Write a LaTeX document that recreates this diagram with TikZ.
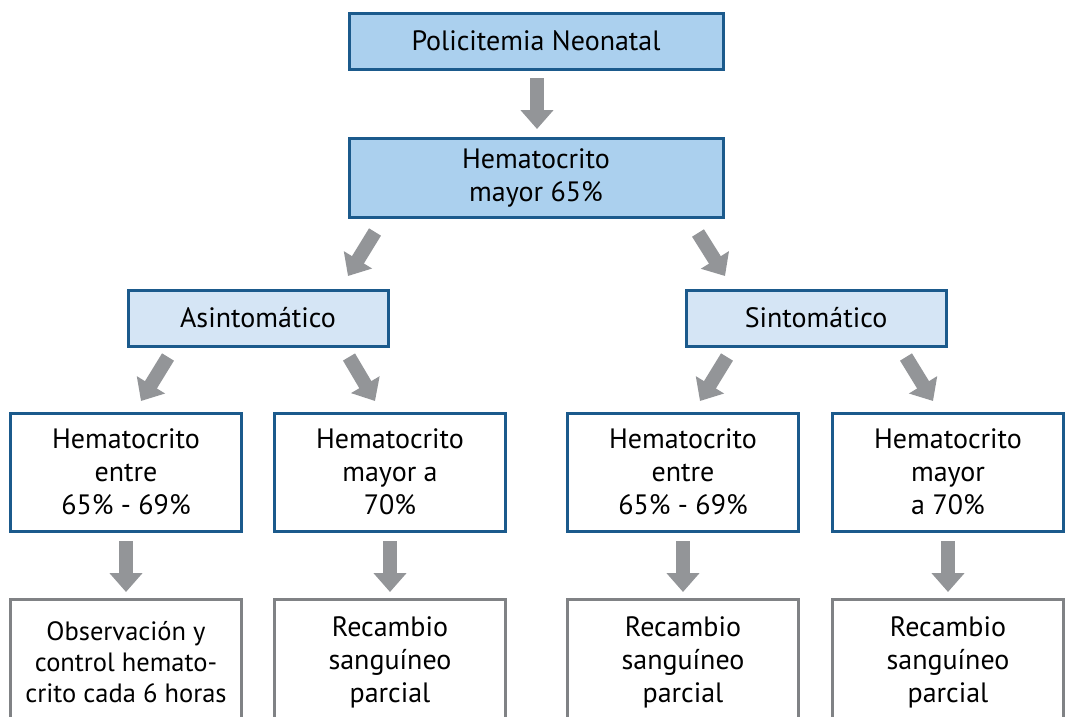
\documentclass[tikz,border=0pt]{standalone}
\usepackage{fontspec}
\setmainfont{PT Sans}
\usetikzlibrary{arrows.meta}
\definecolor{topfill}{HTML}{ABD0EE}
\definecolor{midfill}{HTML}{D5E5F5}
\definecolor{blueline}{HTML}{1B5A8C}
\definecolor{arrowgray}{HTML}{939598}
\definecolor{boxgray}{HTML}{808285}
\begin{document}
\begin{tikzpicture}[x=1pt,y=-1pt,
  every node/.style={inner sep=0pt, outer sep=0pt, align=center,
    font=\fontsize{28}{33}\selectfont},
  mainbox/.style={draw=blueline, line width=3pt, fill=topfill, minimum width=374pt},
  subbox/.style={draw=blueline, line width=3pt, fill=midfill, minimum width=260pt, minimum height=56pt},
  levelbox/.style={draw=blueline, line width=3pt, fill=white, minimum width=231pt, minimum height=118pt},
  endbox/.style={draw=boxgray, line width=3pt, fill=white, minimum width=231pt, minimum height=160pt},
  bigarrow/.style={draw=arrowgray, line width=14pt, line cap=butt,
    -{Triangle[width=32pt,length=19pt]}},
]
\useasboundingbox (0,0) rectangle (1066,716);
\clip (0,0) rectangle (1066,716);

\node[mainbox, minimum height=56pt] (top) at (536,41) {Policitemia Neonatal};
\node[mainbox, minimum height=79pt] (hem) at (536,177.5) {Hematocrito\\mayor 65\%};
\node[subbox] (asin) at (258,318) {Asintomático};
\node[subbox] (sint) at (816,318) {Sintomático};

\node[levelbox] (a1) at (126,472) {Hematocrito\\entre\\65\% - 69\%};
\node[levelbox] (a2) at (390,472) {Hematocrito\\mayor a\\70\%};
\node[levelbox] (s1) at (683,472) {Hematocrito\\entre\\65\% - 69\%};
\node[levelbox] (s2) at (948,472) {Hematocrito\\mayor\\a 70\%};

\node[endbox, anchor=north] (e1) at (126,599) {};
\node[endbox, anchor=north] (e2) at (390,599) {};
\node[endbox, anchor=north] (e3) at (683,599) {};
\node[endbox, anchor=north] (e4) at (948,599) {};
\node[font=\fontsize{26.5}{31}\selectfont] (t1) at (126,662) {Observación y\\control hemato-\\crito cada 6 horas};
\node (t2) at (390,662) {Recambio\\sanguíneo\\parcial};
\node (t3) at (683,662) {Recambio\\sanguíneo\\parcial};
\node (t4) at (948,662) {Recambio\\sanguíneo\\parcial};

% vertical arrows
\draw[bigarrow, shorten <=9pt, shorten >=9pt] (top.south -| 537,0) -- (hem.north -| 537,0);
\draw[bigarrow, shorten <=10pt, shorten >=7pt] (a1.south) -- (e1.north);
\draw[bigarrow, shorten <=10pt, shorten >=7pt] (a2.south) -- (e2.north);
\draw[bigarrow, shorten <=10pt, shorten >=7pt] (s1.south) -- (e3.north);
\draw[bigarrow, shorten <=10pt, shorten >=7pt] (s2.south) -- (e4.north);

% diagonal arrows
\coordinate (d1s) at (375,232); \coordinate (d1e) at (348,276);
\coordinate (d2s) at (698,233); \coordinate (d2e) at (725,276);
\coordinate (d3s) at (168,357); \coordinate (d3e) at (141,401);
\coordinate (d4s) at (349,357); \coordinate (d4e) at (375,401);
\coordinate (d5s) at (727,357); \coordinate (d5e) at (700,401);
\coordinate (d6s) at (906,357); \coordinate (d6e) at (933,401);
\draw[bigarrow] (d1s) -- (d1e);
\draw[bigarrow] (d2s) -- (d2e);
\draw[bigarrow] (d3s) -- (d3e);
\draw[bigarrow] (d4s) -- (d4e);
\draw[bigarrow] (d5s) -- (d5e);
\draw[bigarrow] (d6s) -- (d6e);
\end{tikzpicture}
\end{document}
